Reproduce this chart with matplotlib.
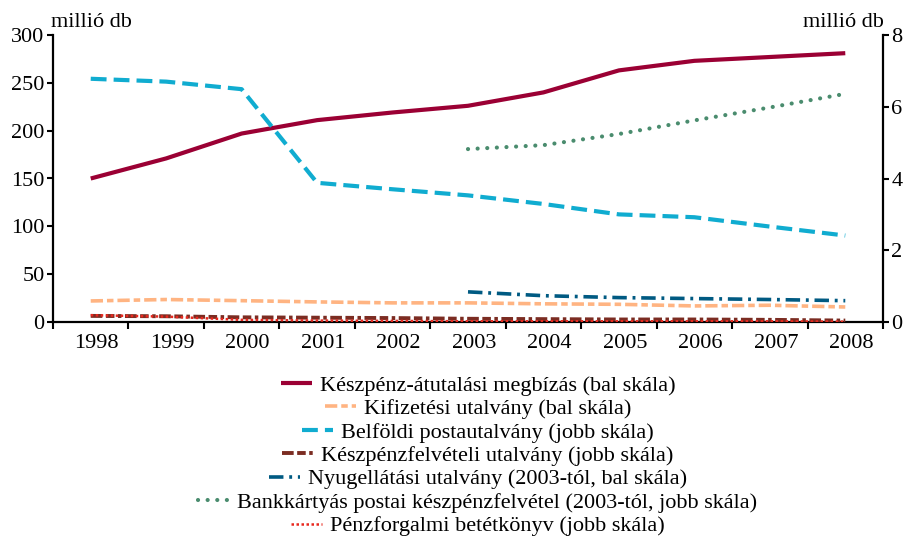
import matplotlib
matplotlib.use('Agg')
import matplotlib.pyplot as plt
import matplotlib.transforms as mtransforms
import numpy as np

plt.rcParams['font.family'] = ['Liberation Serif', 'DejaVu Serif']

years = ['1998', '1999', '2000', '2001', '2002', '2003', '2004', '2005', '2006', '2007', '2008']
nan = np.nan

# bal skála (millió db)
keszpenz_atutalasi = [150, 171, 197, 211, 219, 226, 240, 263, 273, 277, 281]
kifizetesi = [22, 23.5, 22.3, 21, 20, 20, 19, 18.5, 16.8, 17.5, 15.7]
nyugellatasi = [nan, nan, nan, nan, nan, 31.5, 27.5, 25.5, 24.5, 23.5, 22.3]

# jobb skála (millió db)
belfoldi = [6.78, 6.70, 6.49, 3.88, 3.70, 3.53, 3.29, 3.0, 2.92, 2.66, 2.41]
keszpenzfelveteli = [0.17, 0.16, 0.13, 0.12, 0.11, 0.09, 0.08, 0.07, 0.07, 0.06, 0.04]
bankkartyas = [nan, nan, nan, nan, nan, 4.82, 4.93, 5.24, 5.62, 5.98, 6.36]
penzforgalmi = [0.19, 0.15, 0.06, 0.04, 0.03, 0.02, 0.02, 0.02, 0.02, 0.02, 0.01]

labels = [
    'Készpénz-átutalási megbízás (bal skála)',
    'Kifizetési utalvány (bal skála)',
    'Belföldi postautalvány (jobb skála)',
    'Készpénzfelvételi utalvány (jobb skála)',
    'Nyugellátási utalvány (2003-tól, bal skála)',
    'Bankkártyás postai készpénzfelvétel (2003-tól, jobb skála)',
    'Pénzforgalmi betétkönyv (jobb skála)',
]

fig = plt.figure(figsize=(9.07, 5.36), dpi=100)
ax = fig.add_axes([53 / 907, 1 - 322 / 536, 830 / 907, 287 / 536])
ax2 = ax.twinx()

x = np.arange(len(years))

l1, = ax.plot(x, keszpenz_atutalasi, color='#9b0034', lw=3, solid_capstyle='butt')
l2, = ax.plot(x, kifizetesi, color='#ffb482', lw=2.6, dashes=(3.4, 1.1, 1.8, 1.1))
l3, = ax2.plot(x, belfoldi, color='#10acd0', lw=3, dashes=(3.8, 1.7))
l4, = ax2.plot(x, keszpenzfelveteli, color='#7b2c22', lw=2.8, dashes=(3.0, 0.9, 2.2, 0.9, 0.9, 0.9))
l5, = ax.plot(x, nyugellatasi, color='#005a82', lw=2.6, dashes=(4.0, 1.6, 0.8, 1.6))
l6, = ax2.plot(x, bankkartyas, color='#4a8c6e', lw=3, dashes=(0.01, 2.3), dash_capstyle='round')
l7, = ax2.plot(x, penzforgalmi, color='#e8281e', lw=1.8, dashes=(1.0, 1.0))

ax.set_xlim(-0.5, len(years) - 0.5)
ax.set_ylim(0, 300)
ax2.set_ylim(0, 8)
ax.set_yticks(range(0, 301, 50))
ax2.set_yticks(range(0, 9, 2))

# tick marks between years, labels at the year centres
ax.set_xticks(np.arange(-0.5, len(years), 1))
ax.set_xticklabels([])
ax.set_xticks(x, minor=True)
ax.set_xticklabels(years, minor=True)
ax.tick_params(axis='x', which='major', direction='out', length=5, width=1.5)
ax.tick_params(axis='x', which='minor', length=0, pad=9, labelsize=16)
offset = mtransforms.ScaledTranslation(0.06, 0, fig.dpi_scale_trans)
for lab in ax.get_xticklabels(minor=True):
    lab.set_transform(lab.get_transform() + offset)

ax.tick_params(axis='y', direction='out', length=4, width=1.5, labelsize=16, pad=2)
ax2.tick_params(axis='y', direction='out', length=4, width=1.5, labelsize=16, pad=2)

for a in (ax, ax2):
    a.spines['top'].set_visible(False)
    for s in a.spines.values():
        s.set_linewidth(1.6)
ax.spines['right'].set_visible(False)
ax2.spines['left'].set_visible(False)
ax2.spines['bottom'].set_visible(False)

fig.text(51 / 907, 1 - 27 / 536, 'millió db', ha='left', va='baseline', fontsize=16)
fig.text(884 / 907, 1 - 27 / 536, 'millió db', ha='right', va='baseline', fontsize=16)

leg = fig.legend([l1, l2, l3, l4, l5, l6, l7], labels, loc='upper center',
                 bbox_to_anchor=(0.527, 1 - 364 / 536), frameon=False, ncol=1,
                 fontsize=16, borderpad=0, labelspacing=0.13,
                 handlelength=1.4, handletextpad=0.35)
# centre every row like in the original
for col in leg._legend_handle_box.get_children():
    col.align = 'center'

fig.savefig('out.png', dpi=100)
